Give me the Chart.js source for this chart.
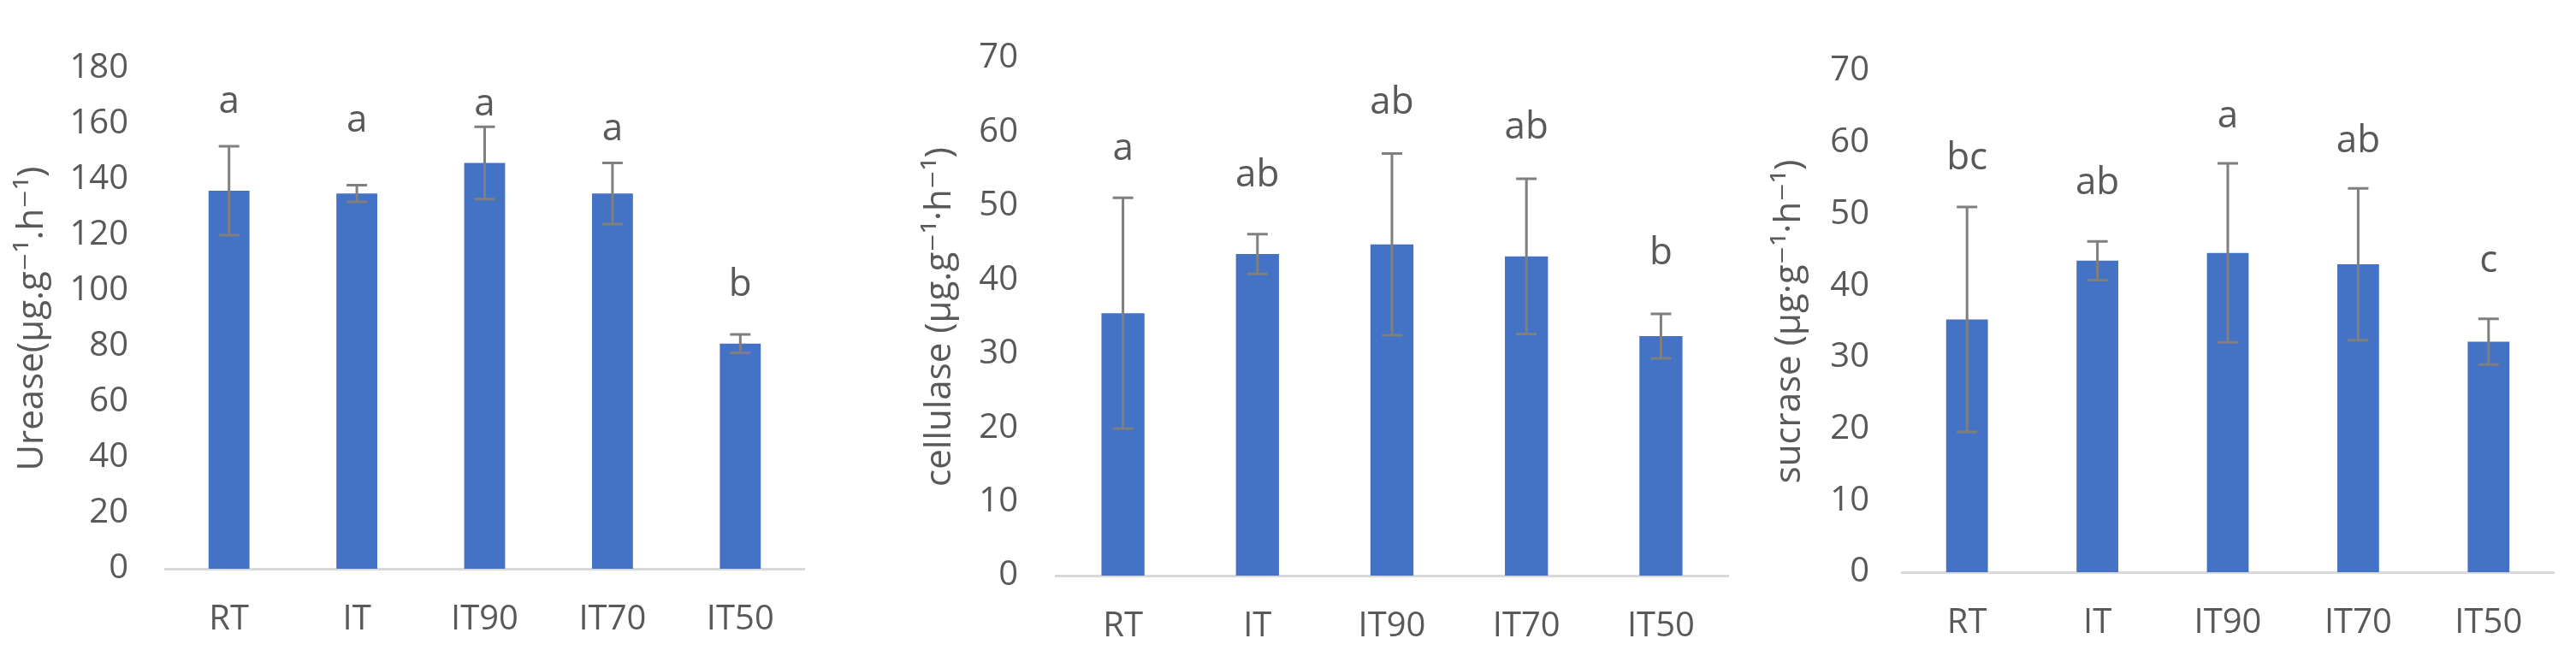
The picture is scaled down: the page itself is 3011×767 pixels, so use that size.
<!DOCTYPE html>
<html>
<head>
<meta charset="utf-8">
<title>Soil enzyme activity</title>
<script src="https://cdn.jsdelivr.net/npm/chart.js@4.4.1/dist/chart.umd.min.js"></script>
<style>
  html, body { margin: 0; padding: 0; background: #fff; }
  #wrap { position: relative; width: 3011px; height: 767px; overflow: hidden; background: #fff; }
  canvas { position: absolute; top: 0; }
</style>
</head>
<body>
<div id="wrap">
  <canvas id="urease" width="990" height="767" style="left:0px;width:990px;height:767px"></canvas>
  <canvas id="cellulase" width="1030" height="767" style="left:1000px;width:1030px;height:767px"></canvas>
  <canvas id="sucrase" width="1011" height="767" style="left:2000px;width:1011px;height:767px"></canvas>
</div>
<script>
// Soil enzyme activities by treatment (mean, SD, significance letters)

const treatments = ["RT", "IT", "IT90", "IT70", "IT50"];

const ureaseMean = [136, 135, 146, 135, 81];
const ureaseSd = [16, 3, 13, 11, 3.3];
const ureaseLetters = ["a", "a", "a", "a", "b"];
const ureaseLetterAt = [168, 161, 167, 158, 102];

const cellulaseMean = [35.5, 43.5, 44.8, 43.2, 32.4];
const cellulaseSd = [15.6, 2.7, 12.3, 10.5, 3.0];
const cellulaseLetters = ["a", "ab", "ab", "ab", "b"];
const cellulaseLetterAt = [57.7, 54.1, 63.9, 60.6, 43.6];

const sucraseMean = [35.3, 43.5, 44.6, 43.0, 32.2];
const sucraseSd = [15.7, 2.7, 12.5, 10.6, 3.2];
const sucraseLetters = ["bc", "ab", "a", "ab", "c"];
const sucraseLetterAt = [57.7, 54.3, 63.6, 60.1, 43.4];

const FONT = '"Open Sans", "DejaVu Sans", sans-serif';
const TEXT = "#595959";

// ---------- Plugins ----------

const errorBarPlugin = {
  id: "errorBars",
  afterDatasetsDraw(chart) {
    const ds = chart.data.datasets[0];
    const meta = chart.getDatasetMeta(0);
    const y = chart.scales.y;
    const ctx = chart.ctx;
    ctx.save();
    ctx.strokeStyle = "#7f7f7f";
    ctx.lineWidth = 3;
    meta.data.forEach((bar, i) => {
      const v = ds.data[i];
      const e = ds.errors[i];
      const yTop = y.getPixelForValue(v + e);
      const yBot = y.getPixelForValue(v - e);
      const x = bar.x;
      ctx.beginPath();
      ctx.moveTo(x, yTop);
      ctx.lineTo(x, yBot);
      ctx.moveTo(x - 12, yTop);
      ctx.lineTo(x + 12, yTop);
      ctx.moveTo(x - 12, yBot);
      ctx.lineTo(x + 12, yBot);
      ctx.stroke();
    });
    ctx.restore();
  },
};

const letterPlugin = {
  id: "letters",
  afterDatasetsDraw(chart) {
    const ds = chart.data.datasets[0];
    const meta = chart.getDatasetMeta(0);
    const y = chart.scales.y;
    const ctx = chart.ctx;
    ctx.save();
    ctx.fillStyle = TEXT;
    ctx.font = "44px " + FONT;
    ctx.textAlign = "center";
    ctx.textBaseline = "middle";
    meta.data.forEach((bar, i) => {
      ctx.fillText(ds.letters[i], bar.x, y.getPixelForValue(ds.letterAt[i]));
    });
    ctx.restore();
  },
};

// ---------- Charts ----------

function makePanel(id, opts) {
  const ctx = document.getElementById(id).getContext("2d");
  return new Chart(ctx, {
    type: "bar",
    data: {
      labels: treatments,
      datasets: [
        {
          data: opts.mean,
          errors: opts.sd,
          letters: opts.letters,
          letterAt: opts.letterAt,
          backgroundColor: "#4472c4",
          borderWidth: 0,
          categoryPercentage: 1,
          barPercentage: 0.32,
        },
      ],
    },
    options: {
      responsive: false,
      animation: false,
      devicePixelRatio: 1,
      layout: {
        padding: { top: opts.top, right: opts.right, bottom: 0, left: 0 },
      },
      plugins: {
        legend: { display: false },
        tooltip: { enabled: false },
      },
      scales: {
        x: {
          grid: { display: false, drawTicks: false },
          border: { display: true, color: "#d9d9d9", width: 3 },
          ticks: {
            color: TEXT,
            font: { family: FONT, size: 40 },
            padding: 36,
            maxRotation: 0,
          },
          afterFit(scale) {
            scale.height = opts.xHeight;
          },
        },
        y: {
          min: 0,
          max: opts.max,
          grid: { display: false, drawTicks: false },
          border: { display: false },
          ticks: {
            stepSize: opts.step,
            color: TEXT,
            font: { family: FONT, size: 40 },
            padding: opts.tickPad,
          },
          title: {
            display: true,
            text: opts.title,
            color: TEXT,
            font: { family: FONT, size: 42 },
            padding: { top: opts.titlePad, bottom: 0 },
          },
          afterFit(scale) {
            scale.width = opts.left;
          },
        },
      },
    },
    plugins: [errorBarPlugin, letterPlugin],
  });
}

makePanel("urease", {
  title: "Urease(μg.g⁻¹.h⁻¹)",
  mean: ureaseMean,
  sd: ureaseSd,
  letters: ureaseLetters,
  letterAt: ureaseLetterAt,
  max: 180,
  step: 20,
  top: 80,
  xHeight: 102,
  left: 193,
  right: 50,
  tickPad: 43,
  titlePad: 13,
});

makePanel("cellulase", {
  title: "cellulase (μg.g⁻¹·h⁻¹)",
  mean: cellulaseMean,
  sd: cellulaseSd,
  letters: cellulaseLetters,
  letterAt: cellulaseLetterAt,
  max: 70,
  step: 10,
  top: 67,
  xHeight: 94,
  left: 234,
  right: 10,
  tickPad: 44,
  titlePad: 74,
});

makePanel("sucrase", {
  title: "sucrase (μg·g⁻¹·h⁻¹)",
  mean: sucraseMean,
  sd: sucraseSd,
  letters: sucraseLetters,
  letterAt: sucraseLetterAt,
  max: 70,
  step: 10,
  top: 83,
  xHeight: 98,
  left: 223,
  right: 26,
  tickPad: 38,
  titlePad: 67,
});
</script>
</body>
</html>
